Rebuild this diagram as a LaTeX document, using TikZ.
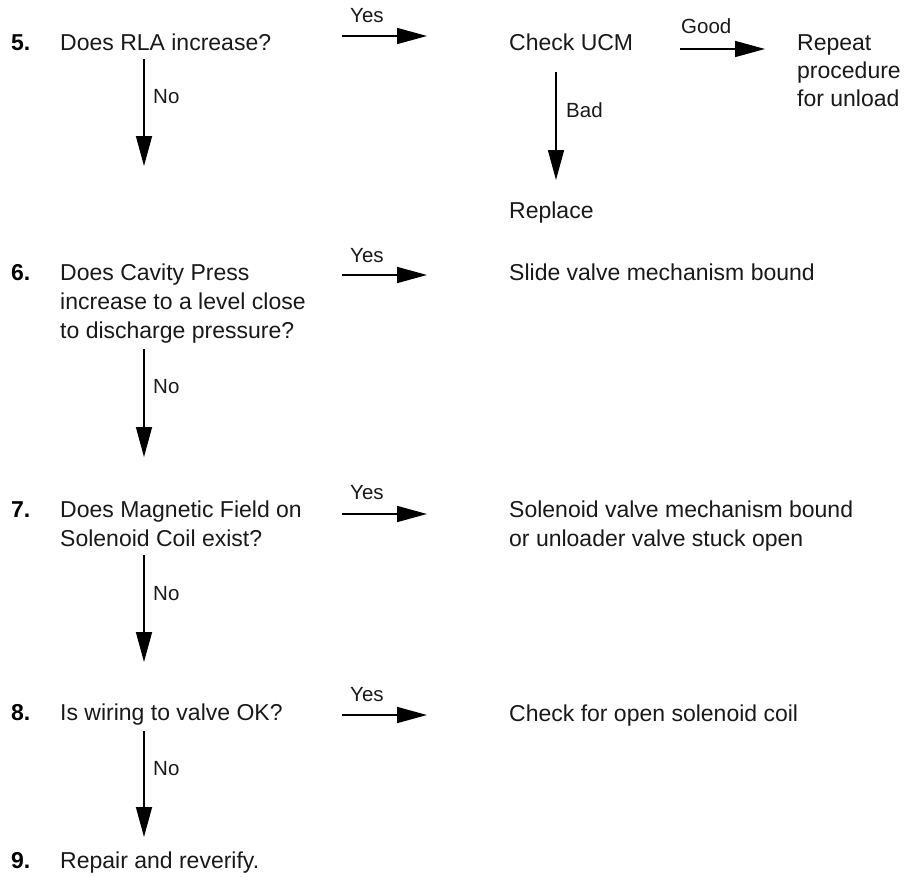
\documentclass[tikz,border=0pt]{standalone}
\usepackage{fontspec}
\setmainfont{Liberation Sans}
\usetikzlibrary{arrows.meta}
\tikzset{>={Triangle[length=30pt, width=16pt]}}
\tikzset{
    txt/.style={anchor=base west, inner sep=0pt, align=left, text=black!90,
        font=\fontsize{23}{29}\selectfont},
    num/.style={anchor=base west, inner sep=0pt, text=black,
        font=\fontsize{23}{29}\selectfont\bfseries},
    lbl/.style={anchor=base west, inner sep=0pt, text=black!90,
        font=\fontsize{20.5}{24}\selectfont},
    flow/.style={->, line width=1.6pt}
}

\begin{document}
\begin{tikzpicture}[x=1pt, y=-1pt]
    \useasboundingbox (0,0) rectangle (910,876);
    % step numbers and questions (multi-line nodes sit on their last line)
    \node[num] (n5) at (11,50) {5.};
    \node[txt] (q5) at (60,50) {Does RLA increase?};
    \node[num] (n6) at (11,280) {6.};
    \node[txt] (q6) at (60,338) {Does Cavity Press\\increase to a level close\\to discharge pressure?};
    \node[num] (n7) at (11,517) {7.};
    \node[txt] (q7) at (60,546) {Does Magnetic Field on\\Solenoid Coil exist?};
    \node[num] (n8) at (11,720) {8.};
    \node[txt] (q8) at (60,720) {Is wiring to valve OK?};
    \node[num] (n9) at (11,868) {9.};
    \node[txt] (q9) at (60,868) {Repair and reverify.};
    % answers
    \node[txt] (ucm) at (509,50) {Check UCM};
    \node[txt, font=\fontsize{23}{28}\selectfont] (rep) at (797,106) {Repeat\\procedure\\for unload};
    \node[txt] (repl) at (509,218) {Replace};
    \node[txt] (slide) at (509,280) {Slide valve mechanism bound};
    \node[txt] (sol) at (509,546) {Solenoid valve mechanism bound\\or unloader valve stuck open};
    \node[txt] (chk) at (509,721) {Check for open solenoid coil};
    % yes arrows
    \foreach \r/\ya/\yl in {5/36/22, 6/275/262, 7/514/499, 8/715/701} {
        \coordinate (ys\r) at (342,\ya);
        \coordinate (ye\r) at (427,\ya);
        \draw[flow] (ys\r) -- (ye\r);
        \node[lbl] (yes\r) at (350,\yl) {Yes};
    }
    % no arrows
    \foreach \r/\ya/\yb/\yl in {5/59/166/103, 6/349/457/393, 7/555/662/600, 8/731/837/775} {
        \coordinate (ns\r) at (144,\ya);
        \coordinate (ne\r) at (144,\yb);
        \draw[flow] (ns\r) -- (ne\r);
        \node[lbl] (no\r) at (153,\yl) {No};
    }
    % UCM check
    \coordinate (gs) at (680,49);
    \coordinate (ge) at (765,49);
    \draw[flow] (gs) -- (ge);
    \node[lbl] (good) at (681,33) {Good};
    \coordinate (bs) at (556,72);
    \coordinate (be) at (556,180);
    \draw[flow] (bs) -- (be);
    \node[lbl] (bad) at (566,117) {Bad};
\end{tikzpicture}
\end{document}
